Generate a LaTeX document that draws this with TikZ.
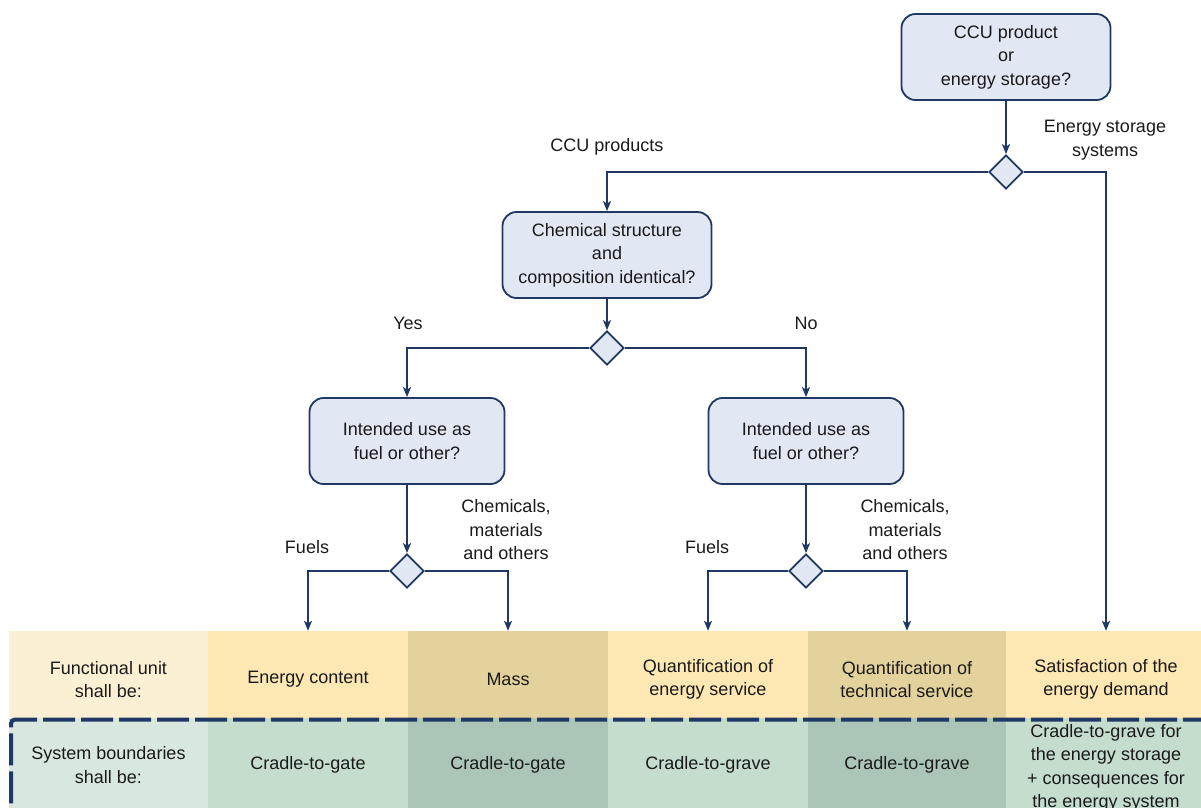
\documentclass[tikz,border=0pt]{standalone}
\usepackage{fontspec}
\setmainfont{Liberation Sans}
\usetikzlibrary{shapes.geometric,arrows.meta}

\definecolor{navy}{HTML}{1F3864}
\definecolor{boxblue}{HTML}{E1E7F3}
\definecolor{textgray}{HTML}{1A1A1A}
\definecolor{fulabel}{HTML}{FBF0D3}
\definecolor{fulight}{HTML}{FDE8B3}
\definecolor{fudark}{HTML}{E4D29C}
\definecolor{sblabel}{HTML}{D9E8DF}
\definecolor{sblight}{HTML}{C4DDCD}
\definecolor{sbdark}{HTML}{ABC5B6}

\begin{document}
\begin{tikzpicture}[x=1pt,y=-1pt,
    every node/.style={font=\fontsize{18}{23.5}\selectfont, text=textgray}]
    \tikzstyle{arrow} = [-{Stealth[length=10pt,width=8pt,inset=2.5pt]},
        line width=1.8pt, draw=navy]
    \tikzstyle{question} = [rectangle, draw=navy, line width=1.8pt,
        rounded corners=14pt, fill=boxblue, align=center,
        minimum height=86pt, minimum width=209pt]
    \tikzstyle{decision} = [diamond, draw=navy, line width=1.8pt,
        fill=boxblue, minimum width=34pt, minimum height=34pt, inner sep=0pt]
    \tikzstyle{cell} = [rectangle, align=center, inner sep=0pt,
        minimum width=200pt, minimum height=97pt]
    \tikzstyle{lowcell} = [cell, minimum height=94pt]
    \tikzstyle{branch} = [align=center]
    \tikzstyle{boundary} = [navy, line width=4pt, dash pattern=on 32pt off 6pt,
        rounded corners=4pt]

    \useasboundingbox (0,0) rectangle (1201,807);

    % table
    \node(fu1) [cell, fill=fulabel, minimum width=199pt] at (108.5,679.5)
        {Functional unit\\ shall be:};
    \node(fu2) [cell, fill=fulight] at (308,679.5) {Energy content};
    \node(fu3) [cell, fill=fudark] at (508,679.5) {Mass};
    \node(fu4) [cell, fill=fulight] at (708,679.5)
        {Quantification of\\ energy service};
    \node(fu5) [cell, fill=fudark, minimum width=198pt] at (907,679.5)
        {Quantification of\\ technical service};
    \node(fu6) [cell, fill=fulight] at (1106,679.5)
        {Satisfaction of the\\ energy demand};

    \node(sb1) [lowcell, fill=sblabel, minimum width=199pt] at (108.5,765)
        {System boundaries\\ shall be:};
    \node(sb2) [lowcell, fill=sblight] at (308,765) {Cradle-to-gate};
    \node(sb3) [lowcell, fill=sbdark] at (508,765) {Cradle-to-gate};
    \node(sb4) [lowcell, fill=sblight] at (708,765) {Cradle-to-grave};
    \node(sb5) [lowcell, fill=sbdark, minimum width=198pt] at (907,765)
        {Cradle-to-grave};
    \node(sb6) [lowcell, fill=sblight, minimum height=100pt] at (1106,768)
        {Cradle-to-grave for\\ the energy storage\\ + consequences for\\
        the energy system};

    \draw[boundary] (1215,719.5) -- (11,719.5) -- (11,830);

    % decisions
    \node(product) [question] at (1006,57)
        {CCU product\\ or\\ energy storage?};
    \node(dproduct) [decision] at (1006,172) {};
    \node(structure) [question] at (607,255)
        {Chemical structure\\ and\\ composition identical?};
    \node(dstructure) [decision] at (607,348) {};
    \node(useyes) [question, minimum width=195pt] at (407,441)
        {Intended use as\\ fuel or other?};
    \node(useno) [question, minimum width=195pt] at (806,441)
        {Intended use as\\ fuel or other?};
    \node(dyes) [decision] at (407,571) {};
    \node(dno) [decision] at (806,571) {};

    % branch labels
    \node(lccu) [branch] at (607,147) {CCU products};
    \node(lstorage) [branch] at (1105,140) {Energy storage\\ systems};
    \node(lyes) at (408,323) {Yes};
    \node(lno) at (806,323) {No};
    \node(lfuelsyes) at (307,547) {Fuels};
    \node(lchemyes) [branch] at (506,530)
        {Chemicals,\\ materials\\ and others};
    \node(lfuelsno) at (707,547) {Fuels};
    \node(lchemno) [branch] at (905,530)
        {Chemicals,\\ materials\\ and others};

    \draw[arrow] (product) -- (dproduct);
    \draw[arrow] (dproduct.west) -| (structure.north);
    \draw[arrow] (dproduct.east) -| (fu6.north);
    \draw[arrow] (structure) -- (dstructure);
    \draw[arrow] (dstructure.west) -| (useyes.north);
    \draw[arrow] (dstructure.east) -| (useno.north);
    \draw[arrow] (useyes) -- (dyes);
    \draw[arrow] (useno) -- (dno);
    \draw[arrow] (dyes.west) -| (fu2.north);
    \draw[arrow] (dyes.east) -| (fu3.north);
    \draw[arrow] (dno.west) -| (fu4.north);
    \draw[arrow] (dno.east) -| (fu5.north);
\end{tikzpicture}
\end{document}
